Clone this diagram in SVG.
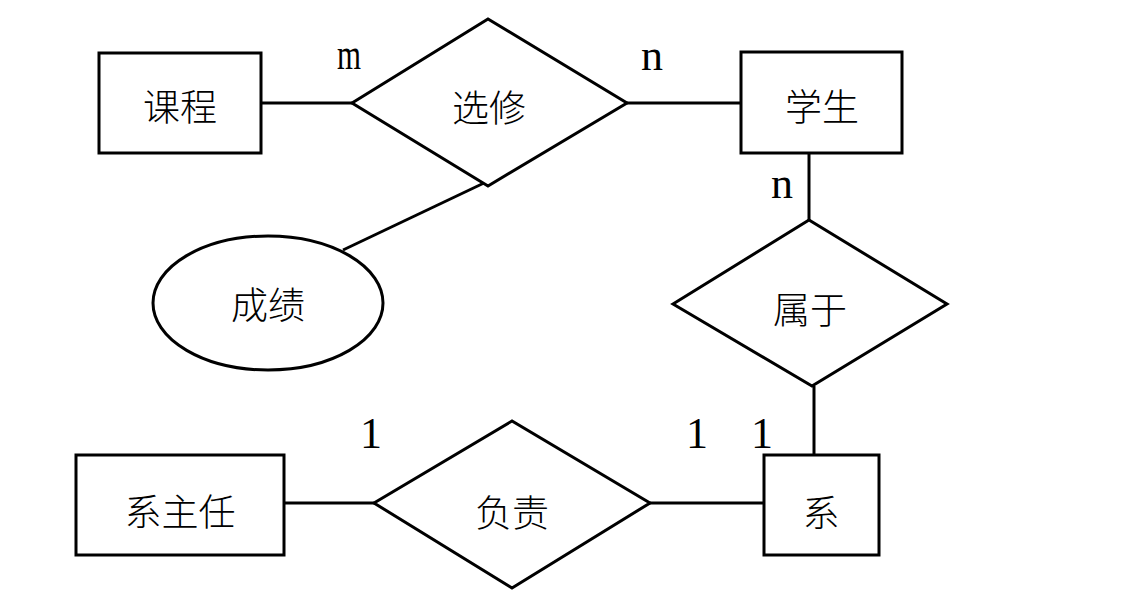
<svg xmlns="http://www.w3.org/2000/svg" width="1129" height="601" viewBox="0 0 1129 601">
<style>
.s{fill:#fff;stroke:#000;stroke-width:3}
.l{stroke:#000;stroke-width:3;fill:none}
.t{font-family:"Noto Sans CJK SC","Noto Sans CJK JP",sans-serif;font-size:37px;font-weight:300;text-anchor:middle;dominant-baseline:central;fill:#000}
.c{font-family:"Liberation Serif",serif;font-size:44px;fill:#000}
</style>
<rect width="1129" height="601" fill="#fff"/>
<g id="connectors">
<line class="l" x1="261" y1="103" x2="352" y2="103"/>
<line class="l" x1="627" y1="103" x2="741" y2="103"/>
<line class="l" x1="809" y1="153" x2="809" y2="220"/>
<line class="l" x1="814" y1="386" x2="814" y2="455"/>
<line class="l" x1="284" y1="503" x2="374" y2="503"/>
<line class="l" x1="650" y1="503" x2="764" y2="503"/>
<line class="l" x1="343" y1="250" x2="484" y2="183"/>
</g>
<g id="kecheng"><rect class="s" x="99" y="53" width="162" height="100"/><text class="t" x="180" y="105">课程</text></g>
<g id="xuanxiu"><polygon class="s" points="352,103 488,19 627,103 488,186"/><text class="t" x="489" y="106">选修</text></g>
<g id="xuesheng"><rect class="s" x="741" y="52" width="161" height="101"/><text class="t" x="822" y="105">学生</text></g>
<g id="chengji"><ellipse class="s" cx="268" cy="303" rx="115" ry="67"/><text class="t" x="268" y="303">成绩</text></g>
<g id="shuyu"><polygon class="s" points="673,304 809,220 947,304 812,386"/><text class="t" x="810" y="308">属于</text></g>
<g id="xizhuren"><rect class="s" x="76" y="455" width="208" height="100"/><text class="t" x="180" y="510">系主任</text></g>
<g id="fuze"><polygon class="s" points="374,503 512,421 650,503 512,588"/><text class="t" x="512" y="511">负责</text></g>
<g id="xi"><rect class="s" x="764" y="455" width="115" height="100"/><text class="t" x="821" y="511">系</text></g>
<g id="labels">
<text class="c" x="337" y="69" textLength="24" lengthAdjust="spacingAndGlyphs">m</text>
<text class="c" x="641" y="70">n</text>
<text class="c" x="771" y="198">n</text>
<text class="c" x="360" y="448">1</text>
<text class="c" x="686" y="448">1</text>
<text class="c" x="751" y="448">1</text>
</g>
</svg>
